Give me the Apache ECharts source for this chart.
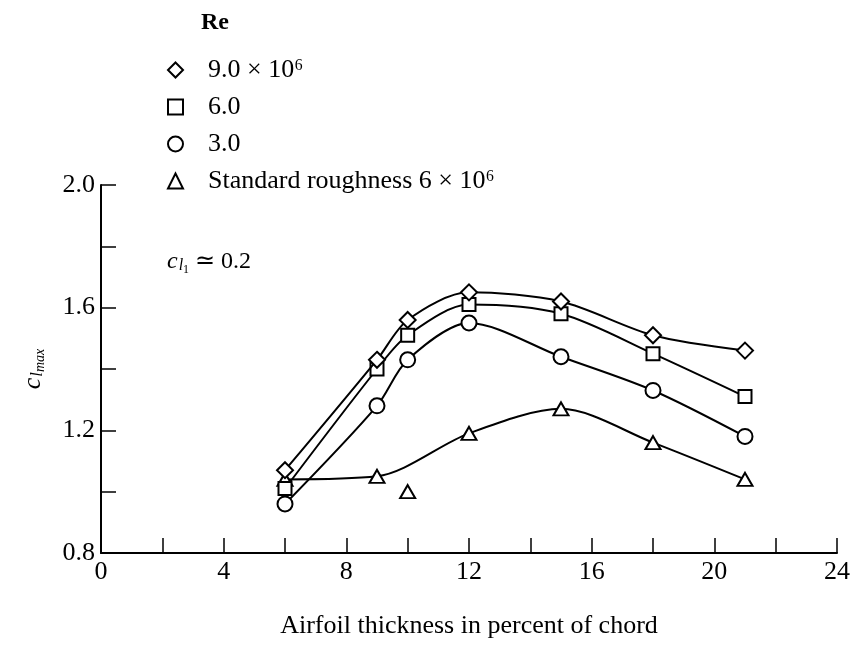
<!DOCTYPE html>
<html><head><meta charset="utf-8">
<script src="https://cdn.jsdelivr.net/npm/echarts@6/dist/echarts.min.js"></script>
<style>html,body{margin:0;padding:0;background:#fff}#main{width:863px;height:646px}</style>
</head><body><div id="main"></div>
<script>
// ---- data ----
const thickness = [6, 9, 10, 12, 15, 18, 21];
const re9 = [1.07, 1.43, 1.56, 1.65, 1.62, 1.51, 1.46];
const re6 = [1.01, 1.40, 1.51, 1.61, 1.58, 1.45, 1.31];
const re3 = [0.96, 1.28, 1.43, 1.55, 1.44, 1.33, 1.18];
const roughX = [6, 9, 12, 15, 18, 21];
const rough = [1.04, 1.05, 1.19, 1.27, 1.16, 1.04];
const roughOutlierX = [10];
const roughOutlier = [1.00];
const xTickLabels = [0, 4, 8, 12, 16, 20, 24];
const yTickLabels = [0.8, 1.2, 1.6, 2.0];
const names = ['9.0 × 10⁶', '6.0', '3.0', 'Standard roughness 6 × 10⁶'];
const symbols = ['diamond', 'rect', 'circle', 'triangle'];

// ---- chart ----
const FONT = 'Liberation Serif';
function pts(xs, ys) { return xs.map((x, i) => [x, ys[i]]); }
function lineSeries(name, data, symbol, size, z) {
  return {
    name: name, type: 'line', data: data, smooth: 0.3, symbol: symbol, symbolSize: size,
    z: z, showSymbol: true,
    lineStyle: { color: '#000', width: 2 },
    itemStyle: { color: '#fff', borderColor: '#000', borderWidth: 2, opacity: 1 },
    emphasis: { disabled: true }
  };
}
const chart = echarts.init(document.getElementById('main'));
chart.setOption({
  animation: false,
  backgroundColor: '#fff',
  grid: { left: 101, right: 26, top: 185, bottom: 93, outerBoundsMode: 'none', containLabel: false },
  xAxis: {
    type: 'value', min: 0, max: 24, interval: 2,
    name: 'Airfoil thickness in percent of chord', nameLocation: 'middle', nameGap: 60,
    nameTextStyle: { fontFamily: FONT, fontSize: 26, color: '#000' },
    axisLine: { lineStyle: { color: '#000', width: 2 } },
    axisTick: { inside: true, length: 15, lineStyle: { color: '#000', width: 1.5 } },
    splitLine: { show: false },
    axisLabel: {
      fontFamily: FONT, fontSize: 26, color: '#000', margin: 6,
      formatter: v => xTickLabels.includes(v) ? String(v) : ''
    }
  },
  yAxis: {
    type: 'value', min: 0.8, max: 2.0, interval: 0.2,
    name: '{c|c}{l|l}{m|max}', nameLocation: 'middle', nameGap: 54, nameRotate: 90,
    nameTextStyle: {
      color: '#000',
      rich: {
        c: { fontFamily: FONT, fontStyle: 'italic', fontSize: 26, color: '#000' },
        l: { fontFamily: FONT, fontStyle: 'italic', fontSize: 17, color: '#000', verticalAlign: 'top', padding: [10, 0, 0, 1] },
        m: { fontFamily: FONT, fontStyle: 'italic', fontSize: 14, color: '#000', verticalAlign: 'top', padding: [14, 0, 0, 0] }
      }
    },
    axisLine: { lineStyle: { color: '#000', width: 2 } },
    axisTick: { inside: true, length: 15, lineStyle: { color: '#000', width: 1.5 } },
    splitLine: { show: false },
    axisLabel: {
      fontFamily: FONT, fontSize: 26, color: '#000', margin: 6,
      formatter: v => yTickLabels.some(t => Math.abs(t - v) < 1e-6) ? v.toFixed(1) : ''
    }
  },
  legend: {
    orient: 'vertical', left: 162, top: 52, itemWidth: 15, itemHeight: 15, itemGap: 11,
    selectedMode: false,
    textStyle: { fontFamily: FONT, fontSize: 26, lineHeight: 26, color: '#000', padding: [0, 0, 0, 20] },
    data: names.map((n, i) => ({ name: n, icon: symbols[i] }))
  },
  graphic: [
    { type: 'text', left: 201, top: 11, style: { text: 'Re', fontFamily: FONT, fontWeight: 'bold', fontSize: 24, fill: '#000' } },
    { type: 'text', left: 167, top: 250, style: {
        text: '{c|c}{l|l}{n|1}{t| ≃ 0.2}',
        rich: {
          c: { fontFamily: FONT, fontStyle: 'italic', fontSize: 24, fill: '#000' },
          l: { fontFamily: FONT, fontStyle: 'italic', fontSize: 16, fill: '#000', verticalAlign: 'top', padding: [10, 0, 0, 1] },
          n: { fontFamily: FONT, fontSize: 12, fill: '#000', verticalAlign: 'top', padding: [16, 0, 0, 0] },
          t: { fontFamily: FONT, fontSize: 24, fill: '#000' }
        } } }
  ],
  series: [
    lineSeries(names[3], pts(roughX, rough), 'triangle', [15, 13], 2),
    { name: names[3], type: 'scatter', data: pts(roughOutlierX, roughOutlier), symbol: 'triangle', symbolSize: [15, 13], z: 2,
      itemStyle: { color: '#fff', borderColor: '#000', borderWidth: 2, opacity: 1 }, emphasis: { disabled: true } },
    lineSeries(names[2], pts(thickness, re3), 'circle', 15, 3),
    lineSeries(names[1], pts(thickness, re6), 'rect', 13, 4),
    lineSeries(names[0], pts(thickness, re9), 'diamond', 16, 5)
  ]
});
</script></body></html>
